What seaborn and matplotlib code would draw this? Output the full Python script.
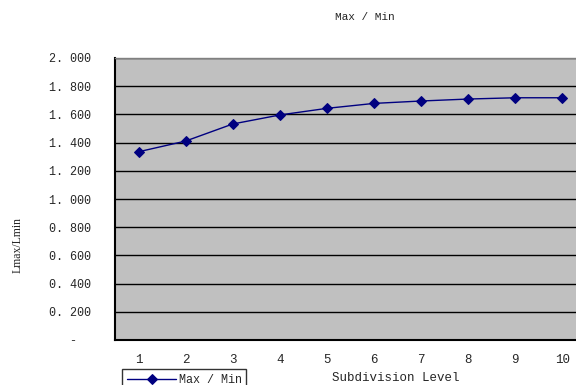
import matplotlib
matplotlib.use("Agg")
import matplotlib.pyplot as plt
import seaborn as sns
import pandas as pd
from matplotlib.ticker import FixedLocator, FuncFormatter

levels = [1, 2, 3, 4, 5, 6, 7, 8, 9, 10]
ratios = [1.335, 1.411, 1.532, 1.596, 1.643, 1.678, 1.695, 1.709, 1.718, 1.718]
series_name = "Max / Min"
y_ticks = [0.0, 0.2, 0.4, 0.6, 0.8, 1.0, 1.2, 1.4, 1.6, 1.8, 2.0]

df = pd.DataFrame({"level": levels, "ratio": ratios})

sns.set_style("white")
plt.rcParams["font.family"] = ["Liberation Mono", "DejaVu Sans Mono"]

W, H = 576, 385
fig = plt.figure(figsize=(W / 100, H / 100), dpi=100)
ax = fig.add_axes([115 / W, 1 - 340 / H, (586 - 115) / W, (340 - 58) / H])
ax.set_facecolor("#C0C0C0")

for v in y_ticks[1:]:
    ax.axhline(v, color="black", lw=1.0, zorder=1)

sns.lineplot(data=df, x="level", y="ratio", ax=ax, color="#000080",
             marker="D", markersize=5, markeredgecolor="#000080",
             linewidth=1.0, label=series_name, zorder=3)

ax.set_xlim(0.5, 10.5)
ax.set_ylim(0, 2.0)

# category labels sit at the centres, tick marks between categories
ax.set_xticks(levels)
ax.set_xticklabels([str(v) for v in levels], fontsize=9)
ax.xaxis.set_minor_locator(FixedLocator([v + 0.5 for v in levels[:-1]]))
ax.tick_params(axis="x", which="major", length=0, pad=10)
ax.tick_params(axis="x", which="minor", direction="in", length=4, width=1, color="black")

def fmt(v, _):
    # accounting style: zero shown as a dash
    if abs(v) < 1e-9:
        return "-\u00a0\u00a0"
    s = f"{v:.3f}"
    return s.replace(".", ". ")

ax.yaxis.set_major_locator(FixedLocator(y_ticks))
ax.yaxis.set_major_formatter(FuncFormatter(fmt))
ax.tick_params(axis="y", length=0, pad=17, labelsize=8.5)

for name, sp in ax.spines.items():
    sp.set_visible(True)
    sp.set_color("black")
    sp.set_linewidth(1.5)
ax.spines["top"].set_color("#808080")
ax.spines["top"].set_linewidth(1.0)

ax.set_xlabel("")
ax.set_ylabel("")
fig.text(396 / W, 1 - 378 / H, "Subdivision Level", ha="center", va="center", fontsize=9)
fig.text(18 / W, 1 - 245 / H, "Lmax/Lmin", ha="center", va="center",
         rotation=90, fontsize=8.5, family=["Liberation Serif", "DejaVu Serif"])
fig.text(365 / W, 1 - 17 / H, "Max / Min", ha="center", va="center", fontsize=8)

ax.get_legend().remove()
handles, labels = ax.get_legend_handles_labels()
leg = fig.legend(handles, labels, loc="upper left",
                 bbox_to_anchor=(122 / W, 1 - 369 / H), borderaxespad=0,
                 frameon=True, fancybox=False, fontsize=8.5,
                 handlelength=4.2, borderpad=0.4, handletextpad=0.2)
leg.get_frame().set_edgecolor("black")
leg.get_frame().set_linewidth(1.0)

fig.savefig("out.png", dpi=100)
